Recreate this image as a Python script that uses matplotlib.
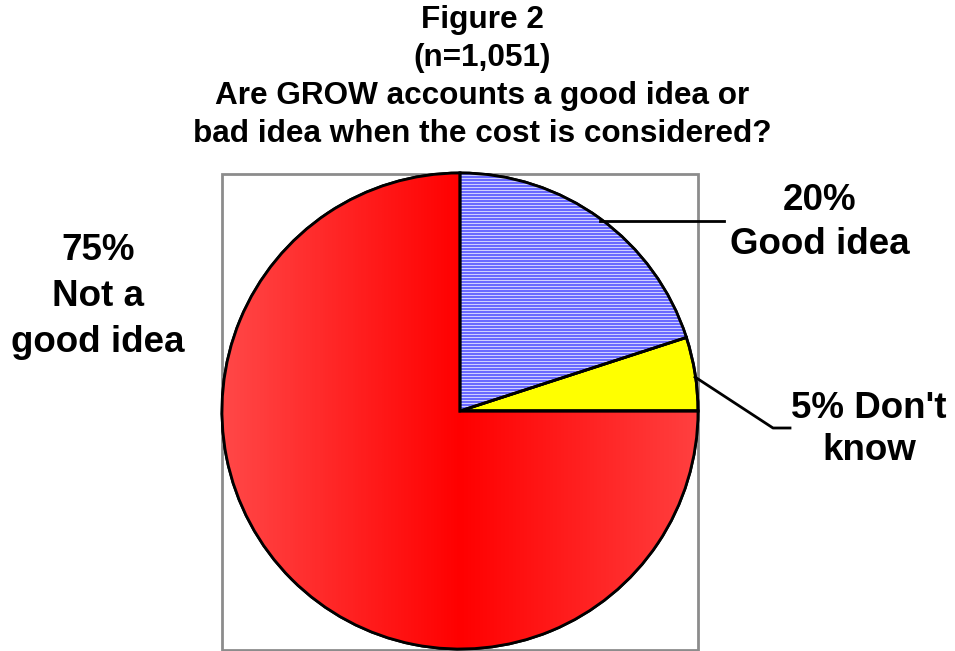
import numpy as np
import matplotlib
matplotlib.use("Agg")
import matplotlib.pyplot as plt
from matplotlib.colors import LinearSegmentedColormap, ListedColormap
from matplotlib.patches import PathPatch, Rectangle

plt.rcParams["font.family"] = ["Liberation Sans", "DejaVu Sans"]
plt.rcParams["font.weight"] = "bold"

# data
labels = ["Good idea", "Don't know", "Not a good idea"]
shares = [20, 5, 75]
label_texts = [["20%", "Good idea"], ["5% Don't", "know"], ["75%", "Not a", "good idea"]]
title_lines = ["Figure 2", "(n=1,051)", "Are GROW accounts a good idea or",
               "bad idea when the cost is considered?"]

W, H = 955, 651
fig = plt.figure(figsize=(W / 100, H / 100), dpi=100)
ax = fig.add_axes([0, 0, 1, 1])

cx, cy, r = 460, 240, 238

wedges, _ = ax.pie(shares, startangle=90, counterclock=False,
                   center=(cx, cy), radius=r, frame=True,
                   colors=["#8888ff", "#ffff00", "#ff0000"],
                   wedgeprops=dict(edgecolor="black", linewidth=2))
ax.set_xlim(0, W)
ax.set_ylim(0, H)
ax.axis("off")

# striped fill for the blue slice (two dark rows, one light row)
stripe_cmap = ListedColormap(["#6a6aff", "#cfcfff"])
stripes = np.tile(((np.arange(2 * r) % 3) == 2).astype(int)[:, None], (1, 2 * r))
im_b = ax.imshow(stripes, cmap=stripe_cmap, extent=(cx - r, cx + r, cy - r, cy + r),
                 origin="lower", interpolation="nearest", zorder=2)
im_b.set_clip_path(wedges[0])

# gradient fill for the red slice
red_cmap = LinearSegmentedColormap.from_list("redgrad", ["#ff4848", "#ff0000", "#ff4040"])
grad = np.tile(np.linspace(0, 1, 400)[None, :], (10, 1))
im_r = ax.imshow(grad, cmap=red_cmap, extent=(cx - r, cx + r, cy - r, cy + r),
                 origin="lower", aspect="auto", zorder=2)
im_r.set_clip_path(wedges[2])

# redraw outlines on top of the fills
for w in wedges:
    ax.add_patch(PathPatch(w.get_path(), transform=w.get_transform(), fill=False,
                           edgecolor="black", linewidth=2, zorder=5))

# gray plot-area box
ax.add_patch(Rectangle((222, 1), 476, 476, fill=False, edgecolor="#8c8c8c",
                       linewidth=2, zorder=0.5))

# leader lines
ax.plot([600, 724], [430, 430], color="black", lw=2, zorder=6)
ax.plot([695, 773, 790], [274, 223, 223], color="black", lw=2, zorder=6)

# labels
fs = 26.5
for txt, y in zip(label_texts[0], [451, 406]):
    ax.text(820, y, txt, fontsize=fs, ha="center", va="center", fontweight="bold")
for txt, y in zip(label_texts[1], [243, 200]):
    ax.text(869, y, txt, fontsize=fs, ha="center", va="center", fontweight="bold")
for txt, y in zip(label_texts[2], [401, 354, 308]):
    ax.text(98, y, txt, fontsize=fs, ha="center", va="center", fontweight="bold")

# title
for txt, y in zip(title_lines, [631, 593, 555, 517]):
    ax.text(482, y, txt, fontsize=22.7, ha="center", va="center", fontweight="bold")

fig.savefig("out.png", dpi=100)
